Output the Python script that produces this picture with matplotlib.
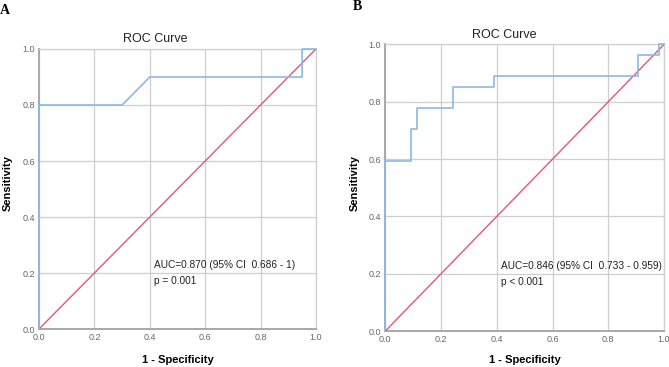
import matplotlib
matplotlib.use("Agg")
import matplotlib.pyplot as plt

plt.rcParams['font.family'] = ['Liberation Sans', 'DejaVu Sans']

# Panel A ROC curve
a_fpr = [0.0, 0.0, 0.3, 0.4, 0.95, 0.95, 1.0]
a_tpr = [0.0, 0.8, 0.8, 0.9, 0.9, 1.0, 1.0]
a_text = ["AUC=0.870 (95% CI  0.686 - 1)", "p = 0.001"]

# Panel B ROC curve (step)
b_fpr = [0.0, 0.0, 0.093, 0.093, 0.113, 0.113, 0.243, 0.243, 0.390, 0.390, 0.908, 0.908, 0.983, 0.983, 1.0]
b_tpr = [0.0, 0.593, 0.593, 0.704, 0.704, 0.778, 0.778, 0.852, 0.852, 0.889, 0.889, 0.963, 0.963, 1.0, 1.0]
b_text = ["AUC=0.846 (95% CI  0.733 - 0.959)", "p < 0.001"]

ticks = [0.0, 0.2, 0.4, 0.6, 0.8, 1.0]
tick_labels = ["0.0", "0.2", "0.4", "0.6", "0.8", "1.0"]

fig = plt.figure(figsize=(6.69, 3.67), dpi=100)

blue = "#8db8e6"
red = "#e2577a"
grid = "#cfcfcf"

def setup(ax):
    ax.set_xlim(0, 1)
    ax.set_ylim(0, 1)
    ax.set_xticks(ticks)
    ax.set_xticklabels(tick_labels)
    ax.set_yticks(ticks)
    ax.set_yticklabels(tick_labels)
    ax.tick_params(length=0, labelsize=6.5, labelcolor="#666666", pad=3)
    ax.grid(True, color=grid, linewidth=0.9)
    ax.set_axisbelow(True)
    for s in ["top", "right"]:
        ax.spines[s].set_color(grid)
        ax.spines[s].set_linewidth(0.9)
    for s in ["left", "bottom"]:
        ax.spines[s].set_color("#a8a8a8")
        ax.spines[s].set_linewidth(1.4)
    ax.plot([0, 1], [0, 1], color=red, linewidth=1.0, zorder=3)

# Panel A
axA = fig.add_axes([0.0583, 0.1035, 0.414, 0.763])
setup(axA)
axA.plot(a_fpr, a_tpr, color=blue, linewidth=1.2, zorder=4, clip_on=False)
axA.text(0.417, 0.227, a_text[0], fontsize=7.3, color="#222222", va="center")
axA.text(0.417, 0.17, a_text[1], fontsize=7.3, color="#222222", va="center")
fig.text(155/669, 1 - 39/367, "ROC Curve", fontsize=9, ha="center", va="center", color="#222222")
fig.text(8/669, 1 - 183/367, "Sensitivity", fontsize=8, fontweight="bold", rotation=90, ha="center", va="center")
fig.text(178/669, 1 - 360/367, "1 - Specificity", fontsize=8, fontweight="bold", ha="center", va="center")
fig.text(5/669, 1 - 10/367, "A", fontsize=10, fontweight="bold", family="Liberation Serif", ha="center", va="center")

# Panel B
axB = fig.add_axes([0.576, 0.098, 0.4166, 0.781])
setup(axB)
axB.plot(b_fpr, b_tpr, color=blue, linewidth=1.2, zorder=4, clip_on=False)
axB.text(0.415, 0.227, b_text[0], fontsize=7.3, color="#222222", va="center")
axB.text(0.415, 0.17, b_text[1], fontsize=7.3, color="#222222", va="center")
fig.text(504/669, 1 - 35/367, "ROC Curve", fontsize=9, ha="center", va="center", color="#222222")
fig.text(355/669, 1 - 183/367, "Sensitivity", fontsize=8, fontweight="bold", rotation=90, ha="center", va="center")
fig.text(525/669, 1 - 360/367, "1 - Specificity", fontsize=8, fontweight="bold", ha="center", va="center")
fig.text(357/669, 1 - 7/367, "B", fontsize=10, fontweight="bold", family="Liberation Serif", ha="center", va="center")

fig.savefig("out.png", dpi=100)
